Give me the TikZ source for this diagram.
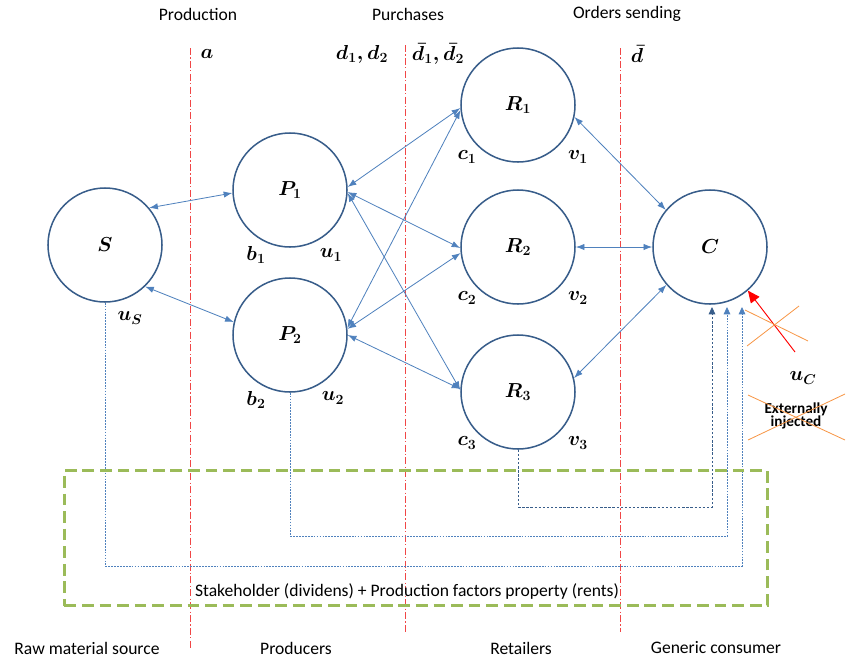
\documentclass[tikz,border=0pt]{standalone}
\usepackage{amsmath}
\usepackage{fontspec}
\setmainfont{Carlito}
\usetikzlibrary{arrows.meta}

\definecolor{ringblue}{RGB}{56,93,138}
\definecolor{flowblue}{RGB}{79,129,189}
\definecolor{cutred}{RGB}{240,70,70}
\definecolor{boxgreen}{RGB}{155,187,89}
\definecolor{crossorange}{RGB}{247,150,70}

\begin{document}
\begin{tikzpicture}[x=0.03cm, y=-0.03cm,
    agent/.style={circle, draw=ringblue, line width=1.3pt, minimum size=3.42cm, inner sep=0pt, font=\fontsize{18}{20}\selectfont\boldmath},
    lbl/.style={font=\fontsize{18}{20}\selectfont\boldmath, inner sep=1pt},
    txt/.style={font=\fontsize{15}{17}\selectfont, inner sep=1pt},
    flow/.style={draw=flowblue, line width=0.7pt, {Latex[length=2.6mm,width=1.9mm]}-{Latex[length=2.6mm,width=1.9mm]}},
    back/.style={draw=flowblue, line width=0.7pt, dash pattern=on 2pt off 1.5pt, -{Triangle[length=2.2mm,width=2mm]}},
    cut/.style={draw=cutred, line width=0.5pt, dash pattern=on 6pt off 2pt on 1pt off 2pt}]
    \useasboundingbox (0, 0) rectangle (846, 662);

    % stage separators
    \draw [cut] (190, 48) -- (190, 648);
    \draw [cut] (405, 45) -- (405, 632);
    \draw [cut] (620, 48) -- (620, 632);

    \node [txt] (prod) at (198, 14) {Production};
    \node [txt] (purch) at (408, 14) {Purchases};
    \node [txt] (orders) at (627, 14) {Orders sending};

    \node [lbl] (a) at (207, 54) {$a$};
    \node [lbl] (d) at (362, 54) {$d_1, d_2$};
    \node [lbl] (dbar) at (438, 54) {$\bar{d}_1, \bar{d}_2$};
    \node [lbl] (dc) at (637, 54) {$\bar{d}$};

    % agents
    \node [agent] (S) at (105, 245) {$S$};
    \node [agent] (P1) at (290, 190) {$P_1$};
    \node [agent] (P2) at (290, 335) {$P_2$};
    \node [agent] (R1) at (518, 105) {$R_1$};
    \node [agent] (R2) at (518, 247) {$R_2$};
    \node [agent] (R3) at (518, 392) {$R_3$};
    \node [agent] (C) at (710, 247) {$C$};

    \node [lbl] (b1) at (256, 255) {$b_1$};
    \node [lbl] (u1) at (331, 255) {$u_1$};
    \node [lbl] (b2) at (256, 400) {$b_2$};
    \node [lbl] (u2) at (333, 398) {$u_2$};
    \node [lbl] (uS) at (130, 318) {$u_S$};
    \node [lbl] (c1) at (467, 157) {$c_1$};
    \node [lbl] (v1) at (578, 157) {$v_1$};
    \node [lbl] (c2) at (467, 298) {$c_2$};
    \node [lbl] (v2) at (578, 298) {$v_2$};
    \node [lbl] (c3) at (467, 443) {$c_3$};
    \node [lbl] (v3) at (578, 443) {$v_3$};

    % exchanges
    \draw [flow] (S.40) -- (P1.183);
    \draw [flow] (S.-46) -- (P2.167);
    \draw [flow] (P1.3) -- (R1.183);
    \draw [flow] (P1.-2) -- (R2.181);
    \draw [flow] (P1.-3) -- (R3.178);
    \draw [flow] (P2.7) -- (R1.185);
    \draw [flow] (P2.6) -- (R2.186);
    \draw [flow] (P2.0) -- (R3.177);
    \draw [flow] (R1.-12) -- (C.140);
    \draw [flow] (R2.0) -- (C.180);
    \draw [flow] (R3.14) -- (C.221);

    % income back to the consumer
    \coordinate (k3) at (712, 507);
    \coordinate (k2) at (727, 536);
    \coordinate (k1) at (742, 566);
    \coordinate (t3) at (712, 307);
    \coordinate (t2) at (727, 307);
    \coordinate (t1) at (742, 307);
    \draw [back, draw=ringblue] (R3.south) |- (k3) -- (t3);
    \draw [back, dash pattern=on 1.5pt off 1pt] (P2.south) |- (k2) -- (t2);
    \draw [back, dash pattern=on 1.5pt off 1pt] (S.south) |- (k1) -- (t1);

    \node [draw=boxgreen, line width=2pt, dash pattern=on 10pt off 5pt, minimum width=21.09cm, minimum height=4.05cm] (owners) at (416, 538) {};
    \node [txt] (ownlbl) at (407, 591) {Stakeholder (dividens) + Production factors property (rents)};

    % external injection (crossed out)
    \coordinate (ucsrc) at (795, 352);
    \draw [draw=red, line width=0.8pt, -{Triangle[length=3.6mm,width=3.2mm]}] (ucsrc) -- (C.-49);
    \node [lbl] (uC) at (803, 378) {$u_C$};
    \node [txt, font=\fontsize{13}{14}\selectfont\bfseries, align=center] (ext) at (796, 416) {Externally\\[-3pt]injected};
    \draw [crossorange, line width=0.7pt] (745, 310) -- (808, 341);
    \draw [crossorange, line width=0.7pt] (747, 346) -- (799, 306);
    \draw [crossorange, line width=0.7pt] (748, 395) -- (845, 440);
    \draw [crossorange, line width=0.7pt] (748, 440) -- (845, 394);

    \node [txt] (raw) at (87, 648) {Raw material source};
    \node [txt] (prods) at (296, 648) {Producers};
    \node [txt] (rets) at (521, 648) {Retailers};
    \node [txt] (cons) at (716, 648) {Generic consumer};
\end{tikzpicture}
\end{document}
